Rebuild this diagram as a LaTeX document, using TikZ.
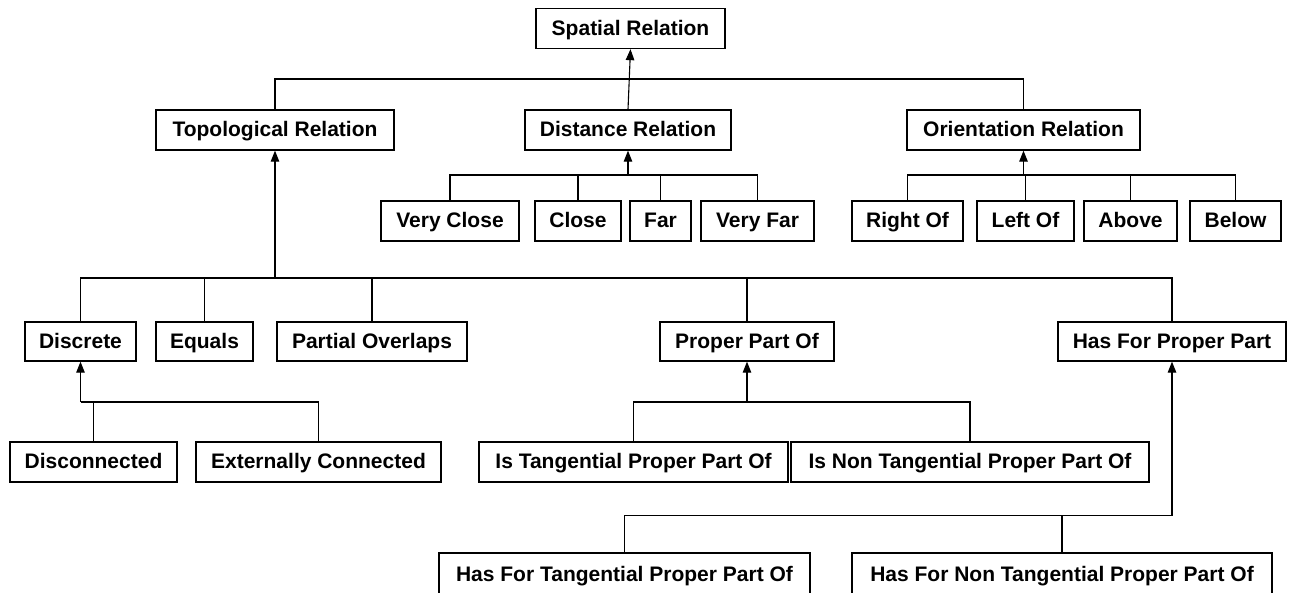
\documentclass[tikz,border=0pt]{standalone}
\usepackage{fontspec}
\setmainfont{Liberation Sans}
\usetikzlibrary{arrows.meta}
\begin{document}
\begin{tikzpicture}[x=1pt,y=-1pt,
  rbox/.style={draw=black, line width=1.3pt, rectangle, inner sep=0pt,
    minimum height=40pt, text height=14.9pt, text depth=1.5pt,
    font=\fontsize{21}{24}\selectfont\bfseries},
  conn/.style={line width=1.1pt, black},
  arr/.style={conn, -{Triangle[width=8.5pt,length=11pt]}}]
\useasboundingbox (0,0) rectangle (1295,592);
\fill[white] (0,0) rectangle (1295,592);
% row 0
\node[rbox, minimum width=189pt] (spatial) at (630.5,28.5) {Spatial Relation};
% row 1
\node[rbox, minimum width=238pt] (topo) at (275,130) {Topological Relation};
\node[rbox, minimum width=206pt] (dist) at (628,130) {Distance Relation};
\node[rbox, minimum width=233pt] (orient) at (1023.5,130) {Orientation Relation};
% row 2
\node[rbox, minimum width=138pt] (vc) at (450,221) {Very Close};
\node[rbox, minimum width=86pt] (close) at (578,221) {Close};
\node[rbox, minimum width=61pt] (far) at (660.5,221) {Far};
\node[rbox, minimum width=113pt] (vf) at (757.5,221) {Very Far};
\node[rbox, minimum width=111pt] (right) at (907.5,221) {Right Of};
\node[rbox, minimum width=97pt] (left) at (1025.5,221) {Left Of};
\node[rbox, minimum width=93pt] (above) at (1130.5,221) {Above};
\node[rbox, minimum width=91pt] (below) at (1235.5,221) {Below};
% row 3
\node[rbox, minimum width=111pt, minimum height=39pt] (discrete) at (80.5,341.5) {Discrete};
\node[rbox, minimum width=97pt, minimum height=39pt] (equals) at (204.5,341.5) {Equals};
\node[rbox, minimum width=190pt, minimum height=39pt] (partial) at (372,341.5) {Partial Overlaps};
\node[rbox, minimum width=174pt, minimum height=39pt] (ppo) at (747,341.5) {Proper Part Of};
\node[rbox, minimum width=228pt, minimum height=39pt] (hfpp) at (1172,341.5) {Has For Proper Part};
% row 4
\node[rbox, minimum width=167pt] (disc) at (93.5,462) {Disconnected};
\node[rbox, minimum width=245pt] (ext) at (318.5,462) {Externally Connected};
\node[rbox, minimum width=309pt] (itpp) at (633.5,462) {Is Tangential Proper Part Of};
\node[rbox, minimum width=358pt] (intpp) at (970,462) {Is Non Tangential Proper Part Of};
% row 5
\node[rbox, minimum width=371pt, minimum height=44pt] (hftpp) at (624.5,575) {Has For Tangential Proper Part Of};
\node[rbox, minimum width=420pt, minimum height=44pt] (hfntpp) at (1062,575) {Has For Non Tangential Proper Part Of};
% bus coordinates
\coordinate (b0) at (630.5,79);
\coordinate (b1) at (0,175);
\coordinate (b2) at (0,278);
\coordinate (b3) at (0,402);
\coordinate (b4) at (0,515.5);
% spatial
\draw[conn] (topo.north) |- (orient.north |- b0) -- (orient.north);
\draw[arr] (dist.north) -- (spatial.south);
% distance
\draw[conn] (vc.north) |- (vf.north |- b1) -- (vf.north);
\draw[conn] (close.north) -- (close.north |- b1);
\draw[conn] (far.north) -- (far.north |- b1);
\draw[arr] (dist.south |- b1) -- (dist.south);
% orientation
\draw[conn] (right.north) |- (below.north |- b1) -- (below.north);
\draw[conn] (left.north) -- (left.north |- b1);
\draw[conn] (above.north) -- (above.north |- b1);
\draw[arr] (orient.south |- b1) -- (orient.south);
% topological
\draw[conn] (discrete.north) |- (hfpp.north |- b2) -- (hfpp.north);
\draw[conn] (equals.north) -- (equals.north |- b2);
\draw[conn] (partial.north) -- (partial.north |- b2);
\draw[conn] (ppo.north) -- (ppo.north |- b2);
\draw[arr] (topo.south |- b2) -- (topo.south);
\draw[line width=1.8pt] (equals.north |- b2) -- (partial.north |- b2);
% discrete
\draw[conn] (discrete.south |- b3) -| (ext.north);
\draw[conn] (disc.north) -- (disc.north |- b3);
\draw[arr] (discrete.south |- b3) -- (discrete.south);
% proper part of
\draw[conn] (itpp.north) |- (intpp.north |- b3) -- (intpp.north);
\draw[arr] (ppo.south |- b3) -- (ppo.south);
% has for proper part
\draw[conn] (hftpp.north) |- (hfpp.south |- b4);
\draw[conn] (hfntpp.north) -- (hfntpp.north |- b4);
\draw[arr] (hfpp.south |- b4) -- (hfpp.south);
\end{tikzpicture}
\end{document}
